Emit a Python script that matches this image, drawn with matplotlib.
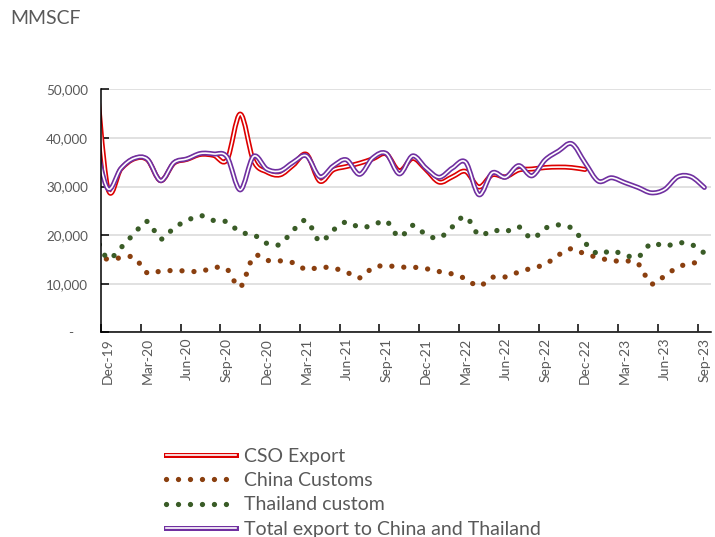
import matplotlib
matplotlib.use("Agg")
import matplotlib.pyplot as plt
import numpy as np
import pandas as pd
from matplotlib.path import Path
from matplotlib.patches import PathPatch
from matplotlib.lines import Line2D
from matplotlib.legend_handler import HandlerTuple
from matplotlib.ticker import FuncFormatter, FixedLocator

plt.rcParams['font.family'] = ['Lato', 'DejaVu Sans']

# months Nov-19 .. Sep-23 (Nov-19 lies left of the axis and is clipped)
months = pd.date_range('2019-11-01', periods=47, freq='MS').strftime('%b-%y').tolist()

cso_export = [57000, 29800, 33600, 35700, 35500, 31200, 34800, 35600, 36600, 36400,
              35500, 44900, 35300, 33000, 32400, 34400, 36600, 31100, 33400, 34100,
              34800, 35700, 36700, 33200, 35800, 33500, 30900, 32000, 33100, 29900,
              32400, 32000, 33400, 33600, 33900, 34000, 33900, 33500]
china_customs = [15000, 15100, 15300, 15400, 12200, 12600, 12700, 12600, 12500, 13300,
                 13000, 9300, 15600, 14800, 14700, 14300, 12900, 13400, 13200, 12400,
                 11200, 13300, 13700, 13400, 13400, 13100, 12500, 12000, 11000, 9500,
                 11300, 11400, 12400, 13200, 14000, 15900, 17200, 16100, 15400, 14700,
                 14700, 14100, 10000, 11600, 13400, 14200, 14500]
thailand_custom = [20300, 15200, 17400, 20300, 22800, 19200, 21500, 23000, 24000, 23000,
                   22700, 20600, 20100, 18300, 18100, 21000, 23000, 18700, 21000, 22700,
                   21600, 22000, 22900, 19600, 22000, 20100, 19400, 21700, 23800, 20000,
                   21000, 20700, 21700, 19300, 21400, 22100, 21400, 18400, 16100, 16800,
                   15900, 15500, 18300, 17700, 18400, 18100, 16300]
total_export = [40200, 29600, 33700, 35800, 35600, 31200, 34900, 35700, 36800, 36700,
                36100, 29300, 36200, 33600, 33200, 35000, 36300, 32000, 34200, 35500,
                32500, 35900, 36800, 32600, 36300, 33800, 31900, 33800, 35000, 28300,
                32800, 31900, 34300, 32200, 35500, 37300, 38800, 34900, 31100, 31800,
                30800, 29800, 28700, 29400, 32000, 32000, 29800]

RED = '#DD0000'
PURPLE = '#7030A0'
BROWN = '#8A3F0F'
GREEN = '#3A5C27'
GREY = '#595959'
DOT = (0, (0.01, 2.26))


def smooth_path(ys):
    # Excel-like smoothed line: cubic Bezier through every point
    xs = np.arange(len(ys)) - 1.0
    pts = np.column_stack([xs, np.asarray(ys, dtype=float)])
    n = len(pts)
    verts = [pts[0]]
    codes = [Path.MOVETO]
    for i in range(n - 1):
        p0 = pts[i - 1] if i > 0 else pts[i]
        p1 = pts[i]
        p2 = pts[i + 1]
        p3 = pts[i + 2] if i + 2 < n else pts[i + 1]
        verts += [p1 + (p2 - p0) / 6.0, p2 - (p3 - p1) / 6.0, p2]
        codes += [Path.CURVE4] * 3
    return Path(verts, codes)


def double_line(ax, path, color):
    ax.add_patch(PathPatch(path, fill=False, edgecolor=color, linewidth=3.6,
                           capstyle='round', joinstyle='round'))
    ax.add_patch(PathPatch(path, fill=False, edgecolor='white', linewidth=1.2,
                           capstyle='round', joinstyle='round'))


fig = plt.figure(figsize=(7.15, 5.37), dpi=100)
ax = fig.add_axes([101 / 715, 1 - 332.3 / 537, 610 / 715, (332.3 - 89.3) / 537])

ax.set_xlim(-0.5, 45.5)
ax.set_ylim(0, 50000)

ax.set_axisbelow(True)
ax.yaxis.grid(True, color='#D9D9D9', linewidth=1.1)
for s in ['top', 'right']:
    ax.spines[s].set_visible(False)
for s in ['left', 'bottom']:
    ax.spines[s].set_color('black')
    ax.spines[s].set_linewidth(1.1)
    ax.spines[s].set_zorder(5)

double_line(ax, smooth_path(cso_export), RED)
ax.add_patch(PathPatch(smooth_path(china_customs), fill=False, edgecolor=BROWN, linewidth=3.8,
                       linestyle=DOT, capstyle='round'))
ax.add_patch(PathPatch(smooth_path(thailand_custom), fill=False, edgecolor=GREEN, linewidth=3.8,
                       linestyle=DOT, capstyle='round'))
double_line(ax, smooth_path(total_export), PURPLE)

# x axis: labels at month centres every quarter, tick marks at category edges
label_pos = list(range(0, 46, 3))
ax.xaxis.set_major_locator(FixedLocator(label_pos))
ax.set_xticklabels([months[i + 1] for i in label_pos], rotation=90)
ax.xaxis.set_minor_locator(FixedLocator([p - 0.5 for p in label_pos]))
ax.tick_params(axis='x', which='major', length=0, pad=4, labelsize=10, labelcolor=GREY)
ax.tick_params(axis='x', which='minor', length=6, width=1.1, direction='in', color='black')

ax.set_yticks(np.arange(0, 50001, 10000))
ax.yaxis.set_major_formatter(FuncFormatter(lambda v, p: '-    ' if v == 0 else f'{int(v):,}'))
ax.tick_params(axis='y', length=6, width=1.1, direction='in', pad=9.4, labelsize=9.7,
               labelcolor=GREY, color='black')

fig.text(10 / 715, 1 - 18 / 537, 'MMSCF', fontsize=14, color=GREY, va='center', ha='left')

handles = [
    (Line2D([], [], color=RED, lw=3.6), Line2D([], [], color='white', lw=1.2)),
    Line2D([], [], color=BROWN, lw=3.8, linestyle=DOT, dash_capstyle='round'),
    Line2D([], [], color=GREEN, lw=3.8, linestyle=DOT, dash_capstyle='round'),
    (Line2D([], [], color=PURPLE, lw=3.6), Line2D([], [], color='white', lw=1.2)),
]
labels = ['CSO Export', 'China Customs', 'Thailand custom', 'Total export to China and Thailand']
leg = fig.legend(handles, labels, loc='upper left', bbox_to_anchor=(166 / 715, 1 - 448 / 537),
                 frameon=False, fontsize=14, handlelength=3.6, handletextpad=0.4,
                 labelspacing=0.37, borderpad=0, borderaxespad=0,
                 handler_map={tuple: HandlerTuple(ndivide=1)})
for t in leg.get_texts():
    t.set_color(GREY)

fig.savefig('out.png', dpi=100)
